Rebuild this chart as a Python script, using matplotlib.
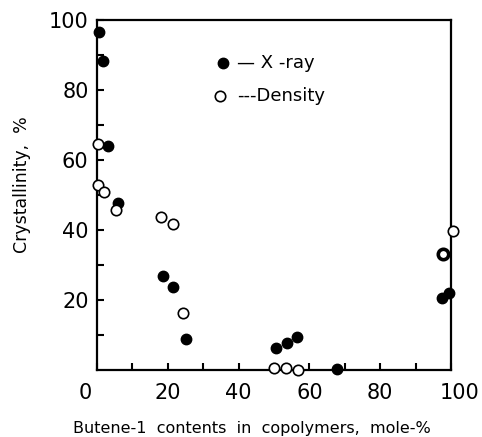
import matplotlib
matplotlib.use('Agg')
import matplotlib.pyplot as plt
import matplotlib.transforms as mtransforms
import numpy as np

# X-ray crystallinity (filled circles)
xray_x = [0.5, 1.7, 3.2, 5.9, 18.6, 21.5, 25.1, 50.6, 53.7, 56.5, 67.8, 97.5, 99.5]
xray_y = [96.6, 88.3, 64.0, 47.7, 26.9, 23.7, 8.9, 6.3, 7.7, 9.4, 0.3, 20.5, 22.0]

# density crystallinity (open circles)
dens_x = [0.2, 0.3, 2.0, 5.4, 18.1, 21.5, 24.3, 50.0, 53.4, 56.8, 100.5]
dens_y = [64.6, 53.0, 51.0, 45.7, 43.7, 41.7, 16.3, 0.6, 0.6, 0.0, 39.7]

# overlapping point drawn with a heavy ring
both_x = [97.6]
both_y = [33.3]

xticks = [0, 20, 40, 60, 80, 100]
yticks = [20, 40, 60, 80, 100]

fig = plt.figure(figsize=(4.82, 4.37), dpi=100)
ax = fig.add_axes([0.201, 0.153, 0.735, 0.801])

ax.plot(xray_x, xray_y, 'o', ms=7.5, mfc='black', mec='black', mew=1.0, clip_on=False, zorder=3)
ax.plot(dens_x, dens_y, 'o', ms=7.5, mfc='white', mec='black', mew=1.2, clip_on=False, zorder=3)
ax.plot(both_x, both_y, 'o', ms=7.5, mfc='white', mec='black', mew=2.6, clip_on=False, zorder=3)

ax.set_xlim(0, 100)
ax.set_ylim(0, 100)
ax.set_xticks(xticks)
ax.set_xticks(range(10, 100, 10), minor=True)
ax.set_yticks(yticks)
ax.set_yticks(range(10, 100, 10), minor=True)
ax.set_xticklabels([str(v) for v in xticks])
ax.set_yticklabels([str(v) for v in yticks])
ax.tick_params(which='both', direction='in', length=5, width=1.5, labelsize=15, pad=6)
ax.tick_params(axis='x', pad=9)

# the origin label sits left of the corner, the 100 a bit to the right
xlabs = ax.get_xticklabels()
xlabs[0].set_transform(xlabs[0].get_transform() + mtransforms.ScaledTranslation(-0.12, 0, fig.dpi_scale_trans))
xlabs[-1].set_transform(xlabs[-1].get_transform() + mtransforms.ScaledTranslation(0.08, 0, fig.dpi_scale_trans))

for s in ax.spines.values():
    s.set_linewidth(1.6)

# legend as in the original
ax.plot([0.355], [0.877], 'o', ms=7.5, mfc='black', mec='black', transform=ax.transAxes)
ax.plot([0.347], [0.783], 'o', ms=7.5, mfc='white', mec='black', mew=1.2, transform=ax.transAxes)
ax.text(0.395, 0.877, '— X -ray', transform=ax.transAxes, fontsize=13, va='center')
ax.text(0.395, 0.783, '---Density', transform=ax.transAxes, fontsize=13, va='center')

fig.text(252 / 482, 1 - 428 / 437, 'Butene-1  contents  in  copolymers,  mole-%',
         ha='center', va='center', fontsize=11.5)
fig.text(22 / 482, 1 - 185 / 437, 'Crystallinity,  %', rotation=90,
         ha='center', va='center', fontsize=12.5)

fig.savefig('out.png', dpi=100)
